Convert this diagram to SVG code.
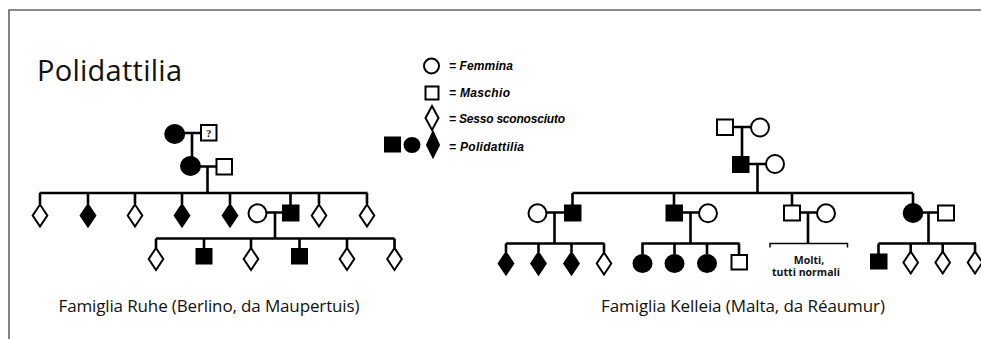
<svg xmlns="http://www.w3.org/2000/svg" width="981" height="339" viewBox="0 0 981 339">
<defs>
<style>
.con{stroke:#000;stroke-width:2.6;fill:none}
.thin{stroke:#000;stroke-width:1.5;fill:none}
.o{fill:#fff;stroke:#000;stroke-width:2}
.f{fill:#000;stroke:#000;stroke-width:2}
.leg{font-family:"Liberation Sans",Arial,sans-serif;font-weight:bold;font-style:italic;font-size:12px;fill:#000}
.lab{font-family:"Open Sans","Noto Sans",sans-serif;font-size:17px;fill:#111}
.note{font-family:"Open Sans","Noto Sans",sans-serif;font-weight:bold;font-size:10.5px;fill:#111}
</style>
<polygon id="dia" points="0,-11 7.3,0 0,11 -7.3,0"/>
</defs>
<rect width="981" height="339" fill="#fff"/>
<path d="M9 339 V10 H981" fill="none" stroke="#666" stroke-width="1.6"/>
<text x="37" y="81" font-family="'Open Sans','Noto Sans',sans-serif" font-size="29" fill="#111" textLength="145">Polidattilia</text>

<g id="legend">
<circle class="o" cx="431.5" cy="66" r="7.5"/>
<text class="leg" x="449" y="70" textLength="64">= Femmina</text>
<rect class="o" x="425.5" y="86.5" width="13" height="13"/>
<text class="leg" x="449" y="96.5" textLength="61">= Maschio</text>
<polygon class="o" points="432,106 438.5,118 432,130 425.5,118"/>
<text class="leg" x="449" y="122.5" textLength="116">= Sesso sconosciuto</text>
<rect class="f" x="385" y="137.5" width="15" height="14"/>
<ellipse class="f" cx="412" cy="145" rx="7.5" ry="7"/>
<polygon class="f" points="433,132 439,145 433,157 427,145"/>
<text class="leg" x="449" y="150.5" textLength="75">= Polidattilia</text>
</g>

<g id="connectors">
<!-- Ruhe -->
<path class="con" d="M184 133 H201 M192 133 V157 M200 166.5 H216 M207.5 166.5 V193 M39.5 193 H367.5"/>
<path class="con" d="M40 193 V204 M88 193 V204 M135 193 V204 M182 193 V204 M230 193 V204 M290.5 193 V205.5 M319 193 V204 M367 193 V204"/>
<path class="con" d="M266.5 212.5 H283 M275 212.5 V238.5 M156 238.5 H394.5"/>
<path class="con" d="M156 238.5 V248 M204 238.5 V249 M251 238.5 V248 M299.5 238.5 V249 M347 238.5 V248 M394.5 238.5 V248"/>
<!-- Kelleia -->
<path class="con" d="M733 127 H751 M742 127 V157 M749 164 H766 M757.5 164 V193 M572.5 193 H913"/>
<path class="con" d="M572.5 193 V205.5 M674 193 V205.5 M792 193 V205.5 M913 193 V204"/>
<path class="con" d="M546.5 212.5 H564.5 M554.5 212.5 V243.5 M506 243.5 H604.5"/>
<path class="con" d="M506 243.5 V252 M538.5 243.5 V252 M571.5 243.5 V252 M604 243.5 V252"/>
<path class="con" d="M682 212.5 H699 M690.5 212.5 V243.5 M641.5 243.5 H739.5"/>
<path class="con" d="M642.5 243.5 V254 M674.5 243.5 V254 M707 243.5 V254 M739 243.5 V254.5"/>
<path class="con" d="M800 212.5 H817 M808 212.5 V243.5"/>
<path class="thin" d="M770 247.5 V243.5 H847.5 V247.5"/>
<path class="con" d="M922.5 212.5 H938 M928.5 212.5 V243.5 M878.5 243.5 H976"/>
<path class="con" d="M878.5 243.5 V254 M910.7 243.5 V252 M942.7 243.5 V252 M975 243.5 V252"/>
</g>

<g id="ruhe-I">
<ellipse class="f" cx="174.7" cy="134" rx="9.5" ry="9"/>
<rect class="o" x="201" y="125" width="15.5" height="15.5"/>
<text x="208.7" y="136.5" font-family="'Liberation Serif',serif" font-weight="bold" font-size="10" text-anchor="middle">?</text>
</g>
<g id="ruhe-II">
<ellipse class="f" cx="190.5" cy="166" rx="9.5" ry="9"/>
<rect class="o" x="216.5" y="159" width="15.5" height="15.5"/>
</g>
<g id="ruhe-III">
<use href="#dia" class="o" x="40" y="215.5"/>
<use href="#dia" class="f" x="88" y="215.5"/>
<use href="#dia" class="o" x="135" y="215.5"/>
<use href="#dia" class="f" x="182" y="215.5"/>
<use href="#dia" class="f" x="230" y="215.5"/>
<circle class="o" cx="257.5" cy="213.3" r="9"/>
<rect class="f" x="283" y="205.5" width="15.5" height="15"/>
<use href="#dia" class="o" x="319" y="215.5"/>
<use href="#dia" class="o" x="367" y="215.5"/>
</g>
<g id="ruhe-IV">
<use href="#dia" class="o" x="156" y="259"/>
<rect class="f" x="196.5" y="249" width="15" height="14.5"/>
<use href="#dia" class="o" x="251" y="259"/>
<rect class="f" x="292" y="249" width="15" height="14.5"/>
<use href="#dia" class="o" x="347" y="259"/>
<use href="#dia" class="o" x="394.5" y="259"/>
</g>
<text class="lab" x="58.5" y="312" textLength="301">Famiglia Ruhe (Berlino, da Maupertuis)</text>

<g id="kel-I">
<rect class="o" x="717" y="119.5" width="16" height="15.5"/>
<circle class="o" cx="760" cy="127.5" r="9"/>
</g>
<g id="kel-II">
<rect class="f" x="733" y="157" width="15.5" height="15"/>
<circle class="o" cx="775" cy="164" r="9"/>
</g>
<g id="kel-A">
<circle class="o" cx="537.5" cy="213.3" r="9"/>
<rect class="f" x="565" y="205.5" width="15.5" height="15"/>
<use href="#dia" class="f" x="506" y="263.5"/>
<use href="#dia" class="f" x="538.5" y="263.5"/>
<use href="#dia" class="f" x="571.5" y="263.5"/>
<use href="#dia" class="o" x="604" y="263.5"/>
</g>
<g id="kel-B">
<rect class="f" x="666.5" y="205.5" width="15.5" height="15"/>
<circle class="o" cx="708" cy="213.3" r="9"/>
<ellipse class="f" cx="642.5" cy="263.5" rx="9" ry="8.5"/>
<ellipse class="f" cx="674.5" cy="263.5" rx="9" ry="8.5"/>
<ellipse class="f" cx="707" cy="263.5" rx="9" ry="8.5"/>
<rect class="o" x="731.5" y="255" width="15.5" height="14.5"/>
</g>
<g id="kel-C">
<rect class="o" x="784" y="205.5" width="16" height="15"/>
<circle class="o" cx="826" cy="213.3" r="9"/>
<text class="note" x="809" y="263.5" text-anchor="middle">Molti,</text>
<text class="note" x="806" y="276" text-anchor="middle" textLength="68">tutti normali</text>
</g>
<g id="kel-D">
<ellipse class="f" cx="913" cy="213" rx="9.3" ry="9"/>
<rect class="o" x="938" y="205.5" width="16" height="15"/>
<rect class="f" x="871" y="254.5" width="15.5" height="14"/>
<use href="#dia" class="o" x="910.7" y="262.5"/>
<use href="#dia" class="o" x="942.7" y="262.5"/>
<use href="#dia" class="o" x="975" y="262.5"/>
</g>
<text class="lab" x="601" y="312" textLength="284">Famiglia Kelleia (Malta, da Réaumur)</text>
</svg>
